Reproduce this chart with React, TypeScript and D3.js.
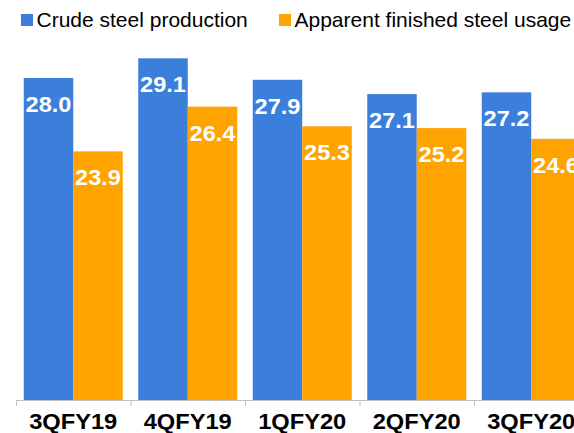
import { useEffect, useRef } from "react";
import * as d3 from "d3";

const quarters = ["3QFY19", "4QFY19", "1QFY20", "2QFY20", "3QFY20"];
const seriesNames = ["Crude steel production", "Apparent finished steel usage"];
const crudeProduction = [28.0, 29.1, 27.9, 27.1, 27.2];
const finishedUsage = [23.9, 26.4, 25.3, 25.2, 24.6];
const colors = ["#3C7FDA", "#FFA300"];

export default function App() {
  const ref = useRef<SVGSVGElement | null>(null);

  useEffect(() => {
    if (!ref.current) return;
    const svg = d3.select(ref.current);
    svg.selectAll("*").remove();

    const width = 574;
    const height = 433;
    const baseY = 400;
    const font = "'Liberation Sans', Arial, sans-serif";

    const x0 = d3.scaleBand().domain(quarters).range([16, 16 + 114.5 * quarters.length]);
    const x1 = d3.scaleBand().domain(seriesNames).range([7.75, 106.75]);
    const y = d3.scaleLinear().domain([10, 28]).range([baseY, 78]);

    const rows = quarters.map((q, i) => ({ q, vals: [crudeProduction[i], finishedUsage[i]] }));

    svg.attr("width", width).attr("height", height).attr("viewBox", `0 0 ${width} ${height}`);

    const groups = svg
      .selectAll("g.grp")
      .data(rows)
      .join("g")
      .attr("class", "grp")
      .attr("transform", (d) => `translate(${x0(d.q)},0)`);

    groups
      .selectAll("rect")
      .data((d) => d.vals.map((v, j) => ({ v, s: seriesNames[j], j })))
      .join("rect")
      .attr("x", (d) => x1(d.s) ?? 0)
      .attr("y", (d) => y(d.v))
      .attr("width", x1.bandwidth())
      .attr("height", (d) => baseY - y(d.v))
      .attr("fill", (d) => colors[d.j]);

    // value labels, slightly widened to match the reference face
    groups
      .selectAll("text.val")
      .data((d) => d.vals.map((v, j) => ({ v, s: seriesNames[j] })))
      .join("text")
      .attr("class", "val")
      .attr(
        "transform",
        (d) => `translate(${(x1(d.s) ?? 0) + x1.bandwidth() / 2},${y(d.v) + 34}) scale(1.07,1)`
      )
      .attr("text-anchor", "middle")
      .attr("fill", "#fff")
      .attr("font-family", font)
      .attr("font-weight", "bold")
      .attr("font-size", 22)
      .text((d) => d.v.toFixed(1));

    // axis
    const axis = svg.append("g");
    axis
      .append("line")
      .attr("x1", 16)
      .attr("x2", width)
      .attr("y1", baseY + 0.5)
      .attr("y2", baseY + 0.5)
      .attr("stroke", "#BFBFBF");
    axis
      .selectAll("line.tick")
      .data(quarters)
      .join("line")
      .attr("class", "tick")
      .attr("x1", (q) => (x0(q) ?? 0) + 0.5)
      .attr("x2", (q) => (x0(q) ?? 0) + 0.5)
      .attr("y1", baseY)
      .attr("y2", baseY + 6)
      .attr("stroke", "#BFBFBF");
    axis
      .selectAll("text")
      .data(quarters)
      .join("text")
      .attr("transform", (q) => `translate(${(x0(q) ?? 0) + x0.bandwidth() / 2},429) scale(1.1,1)`)
      .attr("text-anchor", "middle")
      .attr("font-family", font)
      .attr("font-weight", "bold")
      .attr("font-size", 21.5)
      .attr("fill", "#000")
      .text((q) => q);

    // legend
    const legendX = [21, 279];
    const legend = svg
      .selectAll("g.leg")
      .data(seriesNames)
      .join("g")
      .attr("class", "leg")
      .attr("transform", (_, i) => `translate(${legendX[i]},0)`);
    legend
      .append("rect")
      .attr("x", 0)
      .attr("y", 14)
      .attr("width", 12)
      .attr("height", 12)
      .attr("fill", (_, i) => colors[i]);
    legend
      .append("text")
      .attr("x", 15.5)
      .attr("y", 27)
      .attr("font-family", font)
      .attr("font-size", 21)
      .attr("fill", "#000")
      .text((d) => d);
  }, []);

  return <svg ref={ref} style={{ position: "absolute", left: 0, top: 0 }} />;
}
